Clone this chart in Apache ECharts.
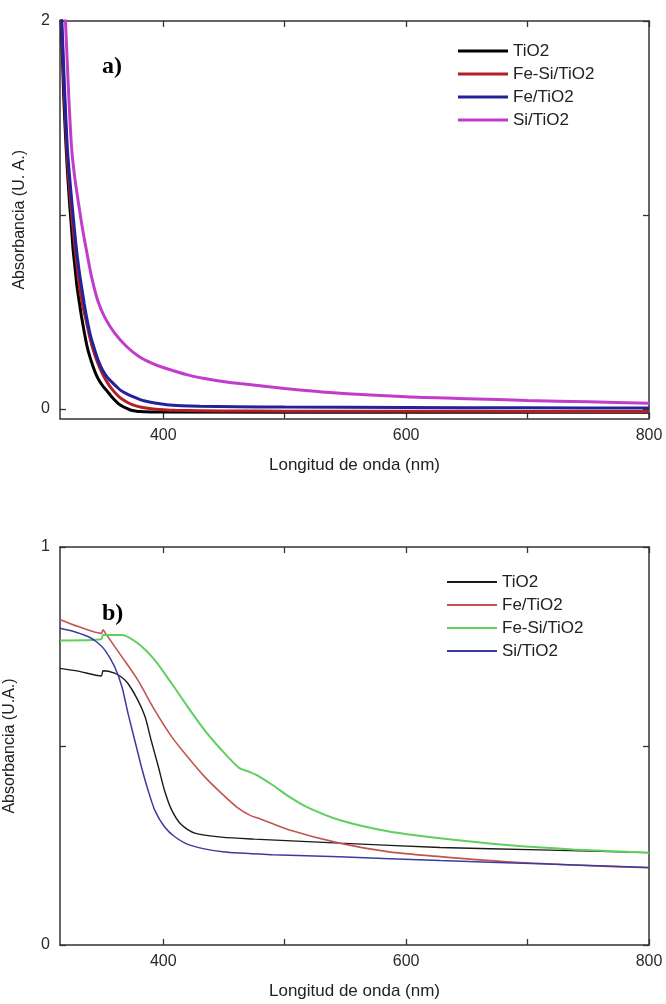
<!DOCTYPE html>
<html>
<head>
<meta charset="utf-8">
<script src="https://cdn.jsdelivr.net/npm/echarts@6/dist/echarts.min.js"></script>
<style>
html,body{margin:0;padding:0;background:#fff;}
#chart{width:666px;height:1004px;}
</style>
</head>
<body>
<div id="chart"></div>
<script>
// ---------- Data (wavelength nm, absorbance) ----------
// Panel a)
const aTiO2 = [[315,2.1],[316,2.0],[318,1.62],[320,1.35],[321.5,1.19],[323,1.05],[324.5,0.93],[325.8,0.82],[327.5,0.72],[329,0.63],[331,0.545],[332.7,0.476],[335,0.395],[337,0.33],[339.5,0.27],[342.2,0.218],[344.5,0.18],[347,0.148],[350,0.12],[353.3,0.095],[356.5,0.07],[360,0.045],[363,0.027],[366.7,0.012],[370,0.002],[373,-0.006],[377,-0.011],[380.7,-0.014],[390,-0.016],[400,-0.017],[600,-0.018],[800,-0.018]];
const aFeSiTiO2 = [[315,2.15],[316.2,2.0],[318.5,1.63],[320.5,1.35],[322.2,1.19],[324,1.05],[325.7,0.93],[327.5,0.82],[329.3,0.72],[331,0.63],[333.5,0.54],[336,0.47],[339.5,0.37],[343,0.29],[346.5,0.23],[350,0.18],[354,0.135],[358,0.1],[361.5,0.075],[365,0.055],[370,0.035],[375,0.02],[382,0.008],[390,0.0],[400,-0.005],[410,-0.008],[450,-0.011],[500,-0.012],[650,-0.013],[800,-0.014]];
const aFeTiO2 = [[315,2.2],[316.5,2.0],[318.8,1.64],[321,1.35],[323,1.19],[325,1.05],[326.8,0.93],[328.6,0.82],[330.8,0.71],[333,0.62],[335,0.54],[336.8,0.476],[340,0.38],[343.6,0.304],[346.8,0.245],[350,0.2],[354,0.162],[358.4,0.134],[362,0.112],[365,0.095],[370,0.077],[375,0.063],[380,0.05],[385,0.04],[393,0.03],[403,0.021],[415,0.016],[430,0.013],[460,0.011],[500,0.009],[600,0.007],[700,0.005],[800,0.004]];
const aSiTiO2 = [[315,2.6],[317,2.3],[319.5,2.0],[322,1.64],[324.5,1.35],[327,1.2],[330,1.07],[333.5,0.93],[337,0.81],[341,0.68],[346,0.56],[352,0.47],[360,0.39],[370,0.32],[380,0.27],[390,0.237],[400,0.213],[420,0.175],[440,0.15],[463,0.13],[500,0.105],[537,0.084],[600,0.062],[650,0.052],[700,0.043],[750,0.036],[800,0.029]];

// Panel b)
const bTiO2 = [[315,0.695],[330,0.688],[349,0.676],[350.5,0.689],[360,0.683],[366,0.672],[371,0.657],[379,0.616],[385,0.574],[390,0.515],[396,0.448],[401,0.389],[407,0.339],[415,0.302],[426,0.281],[448,0.271],[475,0.266],[545,0.256],[628,0.245],[710,0.239],[800,0.232]];
const bFeTiO2 = [[315,0.818],[330,0.8],[349,0.783],[350.5,0.792],[352.5,0.783],[366,0.724],[379,0.666],[393,0.59],[407,0.523],[420,0.473],[434,0.423],[448,0.381],[462,0.343],[472,0.325],[479,0.318],[504,0.289],[545,0.256],[586,0.234],[628,0.222],[683,0.209],[737,0.201],[800,0.194]];
const bFeSiTiO2 = [[315,0.765],[349,0.768],[350.5,0.779],[366,0.779],[379,0.758],[393,0.716],[407,0.657],[420,0.599],[434,0.54],[448,0.49],[462,0.446],[470,0.436],[477,0.427],[490,0.402],[504,0.372],[518,0.347],[545,0.314],[586,0.285],[628,0.268],[683,0.251],[737,0.24],[800,0.232]];
const bSiTiO2 = [[315,0.796],[325,0.789],[338,0.775],[345,0.762],[352,0.741],[360,0.699],[366,0.649],[371,0.582],[376.5,0.515],[382,0.448],[387.5,0.389],[393,0.339],[401,0.297],[409.5,0.272],[422,0.251],[449,0.234],[490,0.227],[545,0.222],[628,0.212],[710,0.204],[800,0.195]];

// Axis ticks / labels
const xTicks = [400,500,600,700,800];
const xLabels = [400,600,800];
const yTicksA = [0,1,2];
const yLabelsA = [0,2];
const yTicksB = [0,0.5,1];
const yLabelsB = [0,1];

const FONT = 'Liberation Sans, Arial, sans-serif';
const axisColor = '#333';

function xAxisMain(gridIndex){
  return {
    type:'value', gridIndex, min:315, max:800, position:'bottom',
    name:'Longitud de onda (nm)', nameLocation:'middle', nameGap:38,
    nameTextStyle:{fontFamily:FONT,fontSize:17,color:'#222'},
    axisLine:{show:true,onZero:false,lineStyle:{color:axisColor,width:1.5}},
    axisTick:{show:true,inside:true,length:6,customValues:xTicks,lineStyle:{color:axisColor,width:1.3}},
    axisLabel:{show:true,customValues:xLabels,margin:9,fontFamily:FONT,fontSize:16,color:'#2a2a2a'},
    splitLine:{show:false}
  };
}
function xAxisTop(gridIndex){
  return {
    type:'value', gridIndex, min:315, max:800, position:'top',
    axisLine:{show:true,onZero:false,lineStyle:{color:axisColor,width:1.5}},
    axisTick:{show:true,inside:true,length:6,customValues:xTicks,lineStyle:{color:axisColor,width:1.3}},
    axisLabel:{show:false}, splitLine:{show:false}
  };
}
function yAxisMain(gridIndex,min,max,ticks,labels,name,gap){
  return {
    type:'value', gridIndex, min, max, position:'left',
    name, nameLocation:'middle', nameGap:gap,
    nameTextStyle:{fontFamily:FONT,fontSize:16,color:'#222'},
    axisLine:{show:true,onZero:false,lineStyle:{color:axisColor,width:1.5}},
    axisTick:{show:true,inside:true,length:6,customValues:ticks,lineStyle:{color:axisColor,width:1.3}},
    axisLabel:{show:true,customValues:labels,margin:10,fontFamily:FONT,fontSize:16,color:'#2a2a2a'},
    splitLine:{show:false}
  };
}
function yAxisRight(gridIndex,min,max,ticks){
  return {
    type:'value', gridIndex, min, max, position:'right',
    axisLine:{show:true,onZero:false,lineStyle:{color:axisColor,width:1.5}},
    axisTick:{show:true,inside:true,length:6,customValues:ticks,lineStyle:{color:axisColor,width:1.3}},
    axisLabel:{show:false}, splitLine:{show:false}
  };
}
function line(name,data,color,width,xi,yi){
  return {type:'line',name,data,xAxisIndex:xi,yAxisIndex:yi,showSymbol:false,symbol:'none',
    smooth:0.25,lineStyle:{color,width},itemStyle:{color},clip:true,silent:true,animation:false};
}

const option = {
  backgroundColor:'#fff',
  animation:false,
  grid:[
    {left:60,top:21,width:589,height:397.5,outerBoundsMode:'none',containLabel:false},
    {left:60,top:547,width:589,height:398,outerBoundsMode:'none',containLabel:false}
  ],
  xAxis:[xAxisMain(0),xAxisTop(0),xAxisMain(1),xAxisTop(1)],
  yAxis:[
    yAxisMain(0,-0.05,2,yTicksA,yLabelsA,'Absorbancia (U. A.)',32),
    yAxisRight(0,-0.05,2,yTicksA),
    yAxisMain(1,0,1,yTicksB,yLabelsB,'Absorbancia (U.A.)',42),
    yAxisRight(1,0,1,yTicksB)
  ],
  legend:[
    {orient:'vertical',left:453,top:36,itemWidth:50,itemHeight:3,itemGap:3,icon:'rect',
     data:['a:TiO2','a:Fe-Si/TiO2','a:Fe/TiO2','a:Si/TiO2'],
     formatter:n=>n.slice(2),
     textStyle:{fontFamily:FONT,fontSize:17,color:'#222',lineHeight:20},selectedMode:false},
    {orient:'vertical',left:442,top:567,itemWidth:50,itemHeight:2,itemGap:3,icon:'rect',
     data:['b:TiO2','b:Fe/TiO2','b:Fe-Si/TiO2','b:Si/TiO2'],
     formatter:n=>n.slice(2),
     textStyle:{fontFamily:FONT,fontSize:17,color:'#222',lineHeight:20},selectedMode:false}
  ],
  title:[
    {text:'a)',left:97,top:50,textStyle:{fontFamily:'Liberation Serif, Times New Roman, serif',fontWeight:'bold',fontSize:24,color:'#000'}},
    {text:'b)',left:97,top:597,textStyle:{fontFamily:'Liberation Serif, Times New Roman, serif',fontWeight:'bold',fontSize:24,color:'#000'}}
  ],
  series:[
    line('a:TiO2',aTiO2,'#000000',3,0,0),
    line('a:Fe-Si/TiO2',aFeSiTiO2,'#b51f24',3,0,0),
    line('a:Fe/TiO2',aFeTiO2,'#22229c',3,0,0),
    line('a:Si/TiO2',aSiTiO2,'#c23ccb',3,0,0),
    line('b:TiO2',bTiO2,'#1a1a1a',1.4,2,2),
    line('b:Fe/TiO2',bFeTiO2,'#c05552',1.6,2,2),
    line('b:Fe-Si/TiO2',bFeSiTiO2,'#5fcf5f',2,2,2),
    line('b:Si/TiO2',bSiTiO2,'#3b3b9e',1.5,2,2)
  ]
};
const chart = echarts.init(document.getElementById('chart'),null,{renderer:'canvas'});
chart.setOption(option);
</script>
</body>
</html>
